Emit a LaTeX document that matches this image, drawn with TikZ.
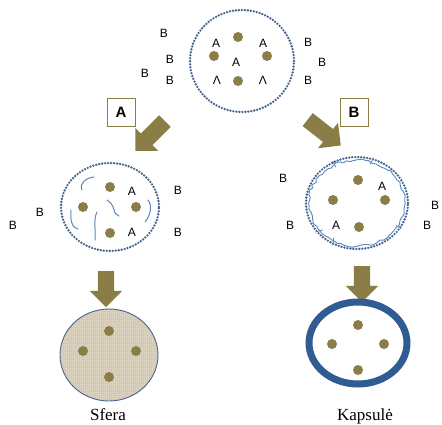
\documentclass[tikz,border=0pt]{standalone}
\usepackage{fontspec}
\setmainfont{Liberation Serif}
\setsansfont{Liberation Sans}
\usetikzlibrary{shapes.geometric,shapes.arrows,decorations.pathmorphing,positioning}

\definecolor{seedolive}{HTML}{8A7D45}
\definecolor{ringblue}{HTML}{46648C}
\definecolor{wallblue}{HTML}{5A86BD}
\definecolor{capblue}{HTML}{2F5C93}
\definecolor{gelbeige}{HTML}{E0D8C5}
\definecolor{gelgrain}{HTML}{CFC4AD}

\begin{document}
\begin{tikzpicture}[x=1pt,y=-1pt,
    ring/.style={ellipse,draw=ringblue,line width=2.6pt,dash pattern=on 0pt off 3pt,line cap=round},
    core/.style={circle,fill=seedolive,inner sep=0pt,minimum size=10pt},
    ion/.style={font=\fontsize{12}{12}\sffamily,inner sep=0pt},
    tag/.style={draw=seedolive,line width=1pt,minimum size=28pt,inner sep=0pt,font=\fontsize{15}{15}\sffamily\bfseries},
    push/.style={single arrow,fill=seedolive,inner xsep=0pt,inner ysep=8pt,single arrow head extend=8pt},
    strand/.style={draw=wallblue,line width=1pt,line cap=round},
    gel/.style={ellipse,fill=gelbeige,draw=ringblue,line width=0.9pt,path picture={
        \foreach \k in {-60,-58,...,60}{
          \draw[gelgrain,line width=0.4pt,opacity=0.6] ([xshift=\k pt]path picture bounding box.north) -- ([xshift=\k pt]path picture bounding box.south);
          \draw[gelgrain,line width=0.4pt,opacity=0.6] ([yshift=\k pt]path picture bounding box.west) -- ([yshift=\k pt]path picture bounding box.east);
        }}},
    caption/.style={font=\fontsize{17}{17}\selectfont,anchor=base}]

  \useasboundingbox (0,0) rectangle (442,424);

  % starting mixture
  \node[ring,minimum width=104pt,minimum height=102pt] (mix) at (242,61) {};
  \foreach \p [count=\i] in {(238,37),(214,56),(267,56),(238,81)}
    \node[core] (mixcore\i) at \p {};
  \node[ion] (ma1) at (216,43) {A};
  \node[ion] (ma2) at (263,43) {A};
  \node[ion] (ma3) at (236,62) {A};
  \node[ion] (ma4) at (217,80) {Λ};
  \node[ion] (ma5) at (263,80) {Λ};
  \foreach \p [count=\i] in {(164,33),(170,59),(145,73),(170,80),(308,42),(322,62),(308,80)}
    \node[ion] (mb\i) at \p {B};

  % the two routes
  \node[tag] (tagA) at (121,112) {A};
  \node[tag] (tagB) at (354,112) {B};
  \node[push,minimum height=42pt,rotate=225] (pushA) at (153,133) {};
  \node[push,minimum height=42pt,rotate=-38] (pushB) at (321,130) {};

  % route A: strands form inside
  \node[ring,minimum width=98pt,minimum height=88pt] (form) at (110,207) {};
  \foreach \p [count=\i] in {(110,187),(83,207),(136,207),(110,233)}
    \node[core] (formcore\i) at \p {};
  \node[ion] (fa1) at (132,191) {A};
  \node[ion] (fa2) at (132,232) {A};
  \foreach \p [count=\i] in {(178,190),(178,232),(40,212),(13,225)}
    \node[ion] (fb\i) at \p {B};
  \draw[strand] (82,190) .. controls (79,183) and (86,178) .. (94,177);
  \draw[strand] (107,200) .. controls (113,203) and (114,210) .. (115,213) -- (119,216);
  \draw[strand] (71,210) .. controls (70,220) and (72,228) .. (78,229);
  \draw[strand] (97,212) .. controls (93,220) and (96,230) .. (95,240);
  \draw[strand] (148,200) .. controls (153,206) and (150,216) .. (145,222);

  % route B: wall forms at the rim
  \pgfmathsetseed{7}
  \draw[wallblue,line width=0.9pt,decorate,decoration={random steps,segment length=3.5pt,amplitude=1.3pt}]
    (357,203) ellipse [x radius=48pt,y radius=43pt];
  \node[ring,minimum width=102pt,minimum height=92pt] (shell) at (357,203) {};
  \draw[strand,line width=0.8pt] (shell.120) -- ++(3,6);
  \draw[strand,line width=0.8pt] (shell.70) -- ++(-3,6);
  \draw[strand,line width=0.8pt] (shell.215) -- ++(7,-2);
  \draw[strand,line width=0.8pt] (shell.240) -- ++(1,-7);
  \draw[strand,line width=0.8pt] (shell.330) -- ++(-5,-3);
  \foreach \p [count=\i] in {(358,180),(333,200),(385,200),(359,227)}
    \node[core] (shellcore\i) at \p {};
  \node[ion] (sa1) at (382,186) {A};
  \node[ion] (sa2) at (336,225) {A};
  \foreach \p [count=\i] in {(283,178),(290,225),(427,225),(435,205)}
    \node[ion] (sb\i) at \p {B};

  % products
  \node[push,minimum height=36pt,rotate=-90] (dropA) at (106,285) {};
  \node[push,minimum height=36pt,rotate=-90] (dropB) at (362,280) {};

  \node[gel,minimum width=98pt,minimum height=92pt] (sfera) at (109,355) {};
  \foreach \p [count=\i] in {(109,331),(83,351),(136,351),(109,377)}
    \node[core] (sferacore\i) at \p {};
  \node[caption] (sferaname) at (108,420) {Sfera};

  \node[ellipse,draw=capblue,line width=7pt,minimum width=98pt,minimum height=82pt] (kaps) at (358,343) {};
  \foreach \p [count=\i] in {(358,325),(332,344),(384,344),(358,370)}
    \node[core] (kapscore\i) at \p {};
  \node[caption] (kapsname) at (365,420) {Kapsulė};
\end{tikzpicture}
\end{document}
